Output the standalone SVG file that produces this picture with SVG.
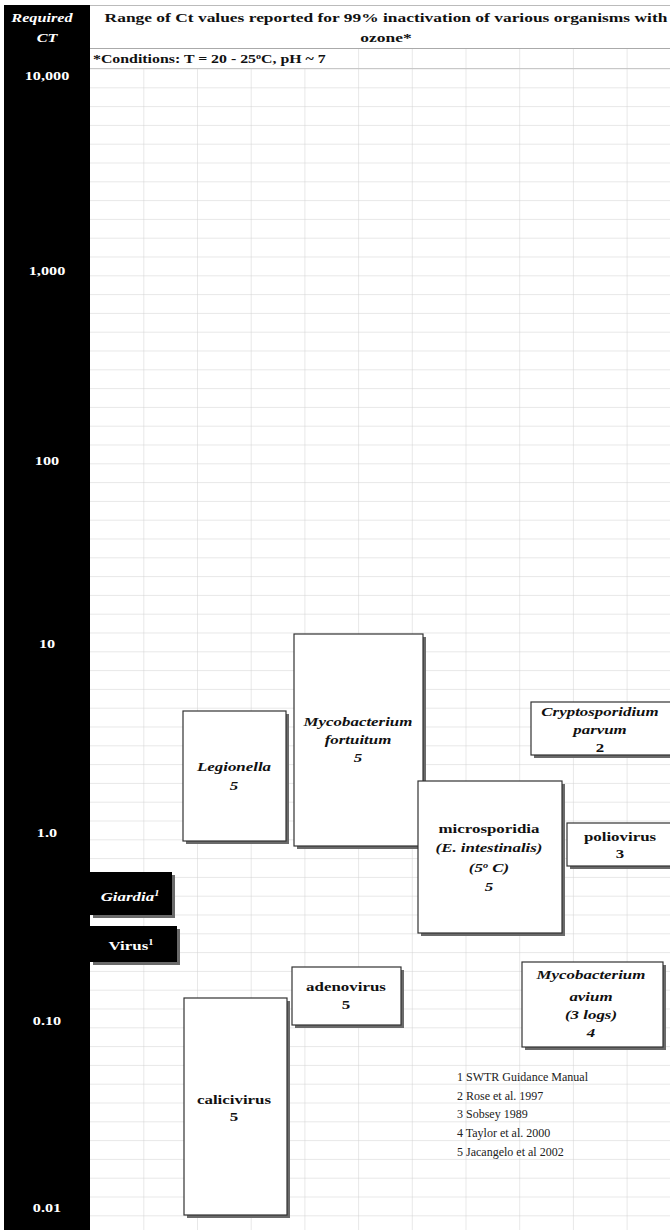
<svg xmlns="http://www.w3.org/2000/svg" width="670" height="1230" viewBox="0 0 670 1230">
<style>
text{font-family:"Liberation Serif","Times New Roman",serif;font-weight:bold}
.ax{fill:#fff;font-size:13px;text-anchor:middle}
.bx{fill:#fff;stroke:#333;stroke-width:1.2}
.sh{fill:#6a6a6a}
.t{font-size:13px;text-anchor:middle;fill:#111}
.i{font-style:italic}
.g{stroke:#d2d2d2;stroke-width:1}
.leg{font-weight:normal;font-size:12px;fill:#222}
</style>
<defs>
<pattern id="rows" x="0" y="68.5" width="670" height="18.8" patternUnits="userSpaceOnUse">
<line x1="0" y1="0" x2="670" y2="0" class="g"/>
</pattern>
<pattern id="cols" x="143.3" y="0" width="53.7" height="1230" patternUnits="userSpaceOnUse">
<line x1="0" y1="0" x2="0" y2="1230" class="g"/>
</pattern>
</defs>
<rect width="670" height="1230" fill="#fff"/>
<g id="grid">
<rect x="90" y="68" width="580" height="1162" fill="url(#rows)"/>
<rect x="142" y="48" width="528" height="1182" fill="url(#cols)"/>
<line x1="90" y1="5.5" x2="670" y2="5.5" stroke="#bbb"/>
<line x1="90" y1="48.5" x2="670" y2="48.5" stroke="#aaa"/>
<rect x="90" y="49" width="267" height="19" fill="#fff"/>
<line x1="90" y1="68.5" x2="670" y2="68.5" stroke="#c8c8c8"/>
</g>
<g id="title">
<g transform="translate(386,0) scale(1.29,1)">
<text x="0" y="22" font-size="13.5" text-anchor="middle" fill="#111">Range of Ct values reported for 99% inactivation of various organisms with</text>
<text x="0" y="42" font-size="13.5" text-anchor="middle" fill="#111">ozone*</text>
</g>
<g transform="translate(93,0) scale(1.27,1)">
<text x="0" y="63" font-size="12.5" fill="#111">*Conditions: T = 20 - 25<tspan dy="-4" font-size="8">o</tspan><tspan dy="4">C, pH ~ 7</tspan></text>
</g>
</g>
<g id="axis">
<rect x="4" y="5" width="86" height="1225" fill="#000"/>
<g transform="translate(42,0) scale(1.25,1)"><text x="0" y="22" class="ax i">Required</text></g>
<g transform="translate(47,0) scale(1.25,1)">
<text x="0" y="42" class="ax i">CT</text>
<text x="0" y="80" class="ax">10,000</text>
<text x="0" y="275" class="ax">1,000</text>
<text x="0" y="465" class="ax">100</text>
<text x="0" y="648" class="ax">10</text>
<text x="0" y="837" class="ax">1.0</text>
<text x="0" y="1025" class="ax">0.10</text>
<text x="0" y="1212" class="ax">0.01</text>
</g>
</g>
<g id="giardia">
<rect x="93" y="875" width="82" height="43" class="sh"/>
<rect x="90" y="872" width="82" height="43" fill="#000"/>
<g transform="translate(130,0) scale(1.3,1)"><text x="0" y="901" class="ax i" font-size="12">Giardia<tspan dy="-5" font-size="8">1</tspan></text></g>
</g>
<g id="virus">
<rect x="93" y="929" width="87" height="36" class="sh"/>
<rect x="90" y="926" width="87" height="36" fill="#000"/>
<g transform="translate(131,0) scale(1.3,1)"><text x="0" y="950" class="ax" font-size="12">Virus<tspan dy="-5" font-size="8">1</tspan></text></g>
</g>
<g id="legionella">
<rect x="186" y="714" width="103" height="130" class="sh"/>
<rect x="183" y="711" width="103" height="130" class="bx"/>
<g transform="translate(234,0) scale(1.3,1)">
<text x="0" y="771" class="t i">Legionella</text>
<text x="0" y="790" class="t i">5</text>
</g>
</g>
<g id="mycobacterium-fortuitum">
<rect x="297" y="637" width="129" height="212" class="sh"/>
<rect x="294" y="634" width="129" height="212" class="bx"/>
<g transform="translate(358,0) scale(1.3,1)">
<text x="0" y="726" class="t i">Mycobacterium</text>
<text x="0" y="744" class="t i">fortuitum</text>
<text x="0" y="762" class="t i">5</text>
</g>
</g>
<g id="cryptosporidium">
<rect x="534" y="705" width="140" height="53" class="sh"/>
<rect x="531" y="702" width="142" height="53" class="bx"/>
<g transform="translate(600,0) scale(1.3,1)">
<text x="0" y="716" class="t i">Cryptosporidium</text>
<text x="0" y="734" class="t i">parvum</text>
<text x="0" y="752" class="t">2</text>
</g>
</g>
<g id="microsporidia">
<rect x="421" y="784" width="144" height="152" class="sh"/>
<rect x="418" y="781" width="144" height="152" class="bx"/>
<g transform="translate(489,0) scale(1.3,1)">
<text x="0" y="833" class="t">microsporidia</text>
<text x="0" y="852" class="t i">(E. intestinalis)</text>
<text x="0" y="872" class="t i">(5<tspan dy="-4" font-size="8">o</tspan><tspan dy="4"> C)</tspan></text>
<text x="0" y="891" class="t i">5</text>
</g>
</g>
<g id="poliovirus">
<rect x="570" y="826" width="104" height="43" class="sh"/>
<rect x="567" y="823" width="106" height="43" class="bx"/>
<g transform="translate(620,0) scale(1.3,1)">
<text x="0" y="841" class="t">poliovirus</text>
<text x="0" y="858" class="t">3</text>
</g>
</g>
<g id="adenovirus">
<rect x="295" y="970" width="109" height="58" class="sh"/>
<rect x="292" y="967" width="109" height="58" class="bx"/>
<g transform="translate(346,0) scale(1.3,1)">
<text x="0" y="991" class="t">adenovirus</text>
<text x="0" y="1009" class="t">5</text>
</g>
</g>
<g id="calicivirus">
<rect x="187" y="1001" width="103" height="217" class="sh"/>
<rect x="184" y="998" width="103" height="217" class="bx"/>
<g transform="translate(234,0) scale(1.3,1)">
<text x="0" y="1104" class="t">calicivirus</text>
<text x="0" y="1121" class="t">5</text>
</g>
</g>
<g id="mycobacterium-avium">
<rect x="525" y="965" width="141" height="85" class="sh"/>
<rect x="522" y="962" width="141" height="85" class="bx"/>
<g transform="translate(591,0) scale(1.3,1)">
<text x="0" y="979" class="t i">Mycobacterium</text>
<text x="0" y="1001" class="t i">avium</text>
<text x="0" y="1019" class="t i">(3 logs)</text>
<text x="0" y="1037" class="t i">4</text>
</g>
</g>
<g id="legend">
<text x="457" y="1081" class="leg">1 SWTR Guidance Manual</text>
<text x="457" y="1100" class="leg">2 Rose et al. 1997</text>
<text x="457" y="1118" class="leg">3 Sobsey 1989</text>
<text x="457" y="1137" class="leg">4 Taylor et al. 2000</text>
<text x="457" y="1156" class="leg">5 Jacangelo et al 2002</text>
</g>
<g id="connectors"></g>
</svg>
